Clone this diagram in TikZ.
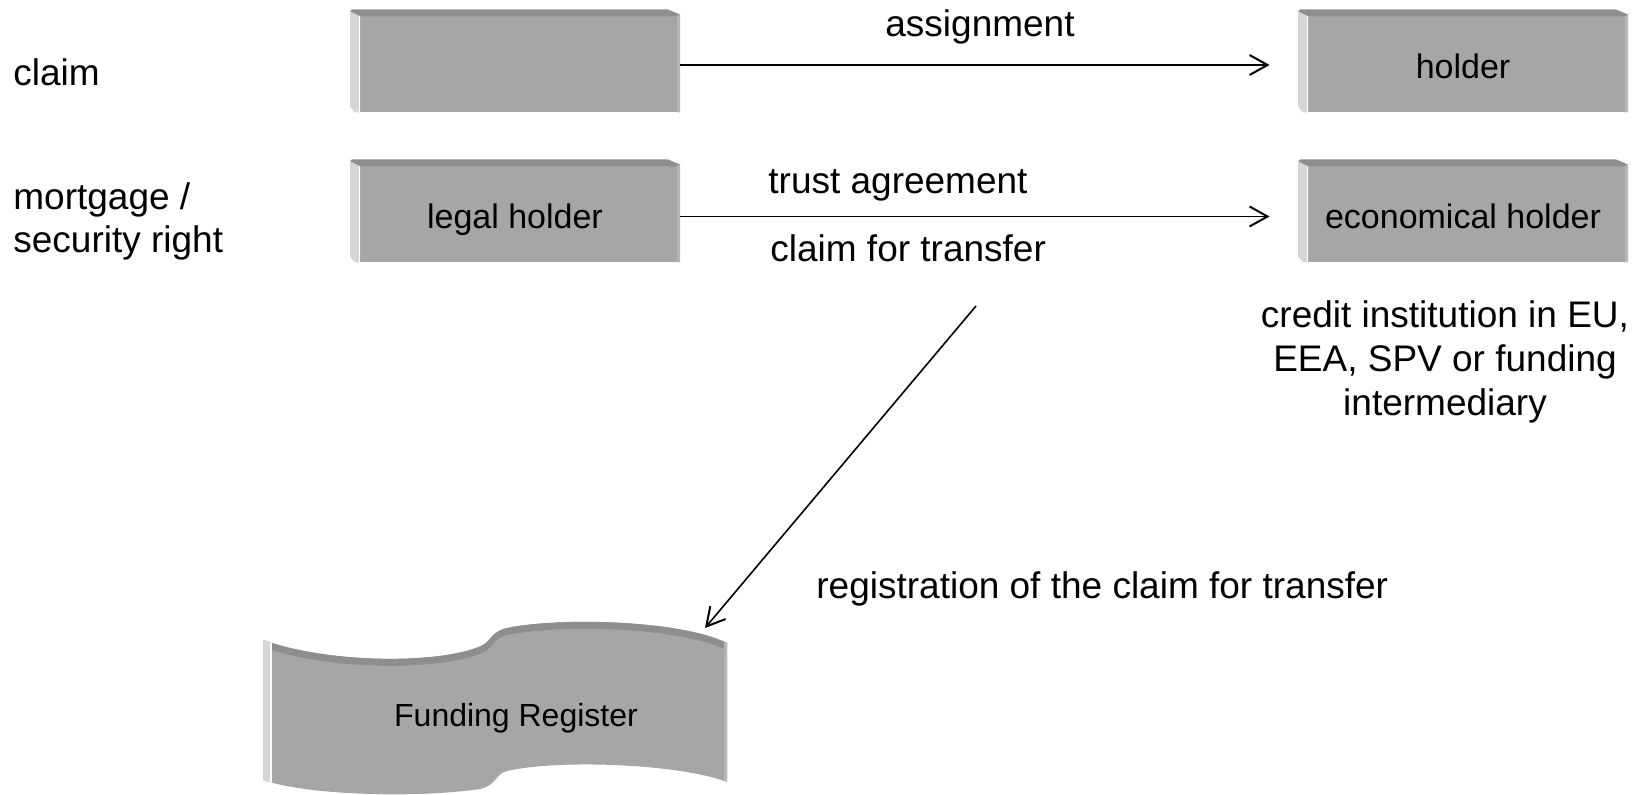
\documentclass[tikz,border=0pt]{standalone}
\usepackage{fontspec}
\setmainfont{Liberation Sans}
\usetikzlibrary{arrows.meta,calc}
\definecolor{boxgray}{HTML}{A6A6A6}
\definecolor{bevtop}{HTML}{8E8E8E}
\definecolor{bevleft}{HTML}{D6D6D6}
\definecolor{bevright}{HTML}{B6B6B6}
\begin{document}
\begin{tikzpicture}[x=0.5pt,y=-0.5pt,
  bevelbox/.style={rectangle, inner sep=0pt, minimum width=165pt, minimum height=51.5pt,
    font=\fontsize{17}{20}\selectfont, text height=18pt, text depth=0pt,
    path picture={
      \path let \p1=(path picture bounding box.north west),
                \p2=(path picture bounding box.south east) in
        [fill=boxgray] (\x1+5pt,\y1-3.5pt) rectangle (\x2-1.5pt,\y2);
      \path let \p1=(path picture bounding box.north west),
                \p2=(path picture bounding box.south east) in
        [fill=bevtop] (\x1,\y1-1pt) -- (\x1+1pt,\y1) -- (\x2-6pt,\y1) -- (\x2,\y1-2.5pt)
           -- (\x2-1.5pt,\y1-3.5pt) -- (\x1+5pt,\y1-3.5pt) -- cycle;
      \path let \p1=(path picture bounding box.north west),
                \p2=(path picture bounding box.south east) in
        [fill=bevleft] (\x1,\y1-1pt) -- (\x1+5pt,\y1-3.5pt) -- (\x1+5pt,\y2)
           -- (\x1+2.5pt,\y2) -- (\x1,\y2+3pt) -- cycle;
      \path let \p1=(path picture bounding box.north west),
                \p2=(path picture bounding box.south east) in
        [fill=bevright] (\x2-1.5pt,\y1-3.5pt) -- (\x2,\y1-2.5pt) -- (\x2,\y2) -- (\x2-1.5pt,\y2) -- cycle;
      \path let \p1=(path picture bounding box.north west),
                \p2=(path picture bounding box.south east) in
        [draw=white, line width=0.6pt] (\x1+4.6pt,\y1-3.5pt) -- (\x1+4.6pt,\y2);
    }},
  lbl/.style={font=\fontsize{18.5}{22}\selectfont, inner sep=0pt},
  conn/.style={line width=0.8pt, -{Straight Barb[length=9pt,width=10pt,line width=1pt]}},
]
\useasboundingbox (0,0) rectangle (1650,795);

% boxes
\node[bevelbox] (cl) at (515,61) {};
\node[bevelbox] (ho) at (1463,61) {holder};
\node[bevelbox] (lh) at (515,211) {legal holder};
\node[bevelbox] (eh) at (1463,211) {economical holder};

% left labels
\node[lbl, anchor=base west] (lclaim) at (13,86) {claim};
\node[lbl, anchor=base west] (lmort) at (13,210) {mortgage /};
\node[lbl, anchor=base west] (lsec) at (13,253) {security right};

% arrow labels
\node[lbl, anchor=base] (lassign) at (980,37) {assignment};
\node[lbl, anchor=base west] (ltrust) at (768,194) {trust agreement};
\node[lbl, anchor=base west] (lcft) at (770,262) {claim for transfer};

% right description
\node[lbl, anchor=base] (d1) at (1445,328) {credit institution in EU,};
\node[lbl, anchor=base] (d2) at (1445,372) {EEA, SPV or funding};
\node[lbl, anchor=base] (d3) at (1445,416) {intermediary};

\node[lbl, anchor=base west] (lreg) at (816,599) {registration of the claim for transfer};

% Funding Register shape
\def\frshape{(263,640) .. controls (330,664) and (440,664) .. (481,646)
  .. controls (492,641) and (490,632) .. (507,628)
  .. controls (560,617) and (680,620) .. (727,643)
  -- (727,782) .. controls (680,764) and (560,759) .. (507,771)
  .. controls (495,774) and (497,785) .. (480,789)
  .. controls (420,798) and (310,796) .. (263,780) -- cycle}
\begin{scope}
  \clip \frshape;
  \fill[boxgray] (250,600) rectangle (740,795);
  \draw[bevtop, line width=3.5pt] (263,643.5) .. controls (330,667.5) and (440,667.5) .. (481,649.5)
    .. controls (492,644.5) and (490,635.5) .. (507,631.5)
    .. controls (560,620.5) and (680,623.5) .. (727,646.5);
  \fill[bevleft] (263,600) rectangle (272,795);
  \draw[white, line width=0.6pt] (271,640) -- (271,795);
  \fill[bevright] (724,600) rectangle (728,795);
\end{scope}
\node[font=\fontsize{16}{19}\selectfont, inner sep=0pt, anchor=base] (fr) at (516,727) {Funding Register};
\coordinate (frtip) at (705,628);
\coordinate (regstart) at (976,306);

% connectors
\draw[conn] ([yshift=-2pt]cl.east) -- ([xshift=-14pt,yshift=-2pt]ho.west);
\draw[conn] ([yshift=-2.75pt]lh.east) -- ([xshift=-14pt,yshift=-2.75pt]eh.west);
\draw[conn] (regstart) -- (frtip);
\end{tikzpicture}
\end{document}
